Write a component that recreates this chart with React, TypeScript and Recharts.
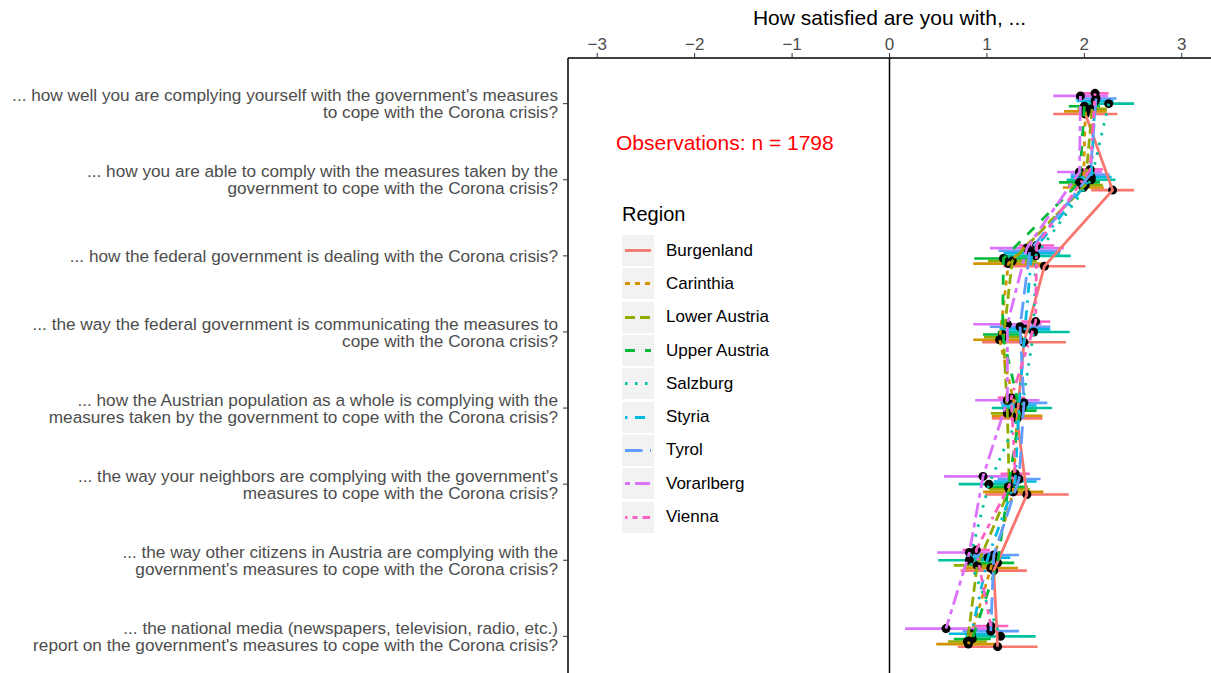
import React from "react";
import {
  ScatterChart,
  Scatter,
  XAxis,
  YAxis,
  ErrorBar,
  ReferenceLine,
  ReferenceDot,
} from "recharts";

// Survey items (top to bottom), pre-broken into lines like the original
const itemLabels: string[][] = [
  ["... how well you are complying yourself with the government's measures", "to cope with the Corona crisis?"],
  ["... how you are able to comply with the measures taken by the", "government to cope with the Corona crisis?"],
  ["... how the federal government is dealing with the Corona crisis?"],
  ["... the way the federal government is communicating the measures to", "cope with the Corona crisis?"],
  ["... how the Austrian population as a whole is complying with the", "measures taken by the government to cope with the Corona crisis?"],
  ["... the way your neighbors are complying with the government's", "measures to cope with the Corona crisis?"],
  ["... the way other citizens in Austria are complying with the", "government's measures to cope with the Corona crisis?"],
  ["... the national media (newspapers, television, radio, etc.)", "report on the government's measures to cope with the Corona crisis?"],
];

const regions = [
  "Burgenland",
  "Carinthia",
  "Lower Austria",
  "Upper Austria",
  "Salzburg",
  "Styria",
  "Tyrol",
  "Vorarlberg",
  "Vienna",
];

const regionColors = ["#F8766D", "#D39200", "#93AA00", "#00BA38", "#00C19F", "#00B9E3", "#619CFF", "#DB72FB", "#FF61C3"];
const regionDashes = ["", "5 5", "10 5", "10 10", "2.5 7.5", "2.5 7.5 10 7.5", "17.5 7.5", "5 5 15 5", "2.5 5 5 5 7.5 5 10 5"];

// mean satisfaction per item, one array per region
const means: number[][] = [
  [2.01, 2.29, 1.59, 1.38, 1.31, 1.41, 1.07, 1.11],
  [2.01, 1.99, 1.22, 1.13, 1.31, 1.27, 1.04, 0.81],
  [2.08, 2.01, 1.26, 1.17, 1.21, 1.23, 0.9, 0.8],
  [2.0, 1.95, 1.17, 1.16, 1.34, 1.22, 1.11, 0.85],
  [2.25, 2.07, 1.5, 1.48, 1.36, 1.02, 0.82, 1.14],
  [2.11, 2.07, 1.46, 1.39, 1.33, 1.29, 1.01, 0.84],
  [2.12, 2.06, 1.44, 1.34, 1.38, 1.33, 1.07, 1.04],
  [1.96, 1.95, 1.41, 1.21, 1.21, 0.96, 0.82, 0.58],
  [2.11, 2.06, 1.51, 1.5, 1.25, 1.29, 0.89, 1.04],
];

// half width of the confidence interval
const halfWidths: number[][] = [
  [0.33, 0.22, 0.42, 0.43, 0.26, 0.43, 0.34, 0.41],
  [0.22, 0.21, 0.36, 0.27, 0.26, 0.31, 0.28, 0.33],
  [0.15, 0.18, 0.25, 0.2, 0.17, 0.21, 0.24, 0.2],
  [0.16, 0.21, 0.3, 0.2, 0.17, 0.2, 0.17, 0.19],
  [0.26, 0.25, 0.36, 0.37, 0.31, 0.31, 0.32, 0.36],
  [0.19, 0.21, 0.29, 0.26, 0.18, 0.22, 0.23, 0.23],
  [0.21, 0.2, 0.32, 0.31, 0.24, 0.22, 0.26, 0.29],
  [0.28, 0.23, 0.38, 0.35, 0.33, 0.4, 0.33, 0.42],
  [0.14, 0.13, 0.18, 0.15, 0.14, 0.15, 0.14, 0.18],
];

const xTicks = [-3, -2, -1, 0, 1, 2, 3];
const yTicks = [1, 2, 3, 4, 5, 6, 7, 8];
const nObs = 1798;

const DODGE = 0.034;

const seriesData = regions.map((r, ri) =>
  means[ri].map((m, i) => ({
    x: m,
    y: i + 1 + (4 - ri) * DODGE,
    hw: halfWidths[ri][i],
  }))
);
const allPoints = seriesData.flat();

const fmtTick = (v: number) => (v < 0 ? `\u2212${-v}` : `${v}`);

const ItemTick = (props: any) => {
  const { x, y, payload } = props;
  const lines = itemLabels[payload.value - 1] || [];
  const n = lines.length;
  return (
    <text x={x} y={y} textAnchor="end" fill="#4D4D4D" fontSize={17.2}>
      {lines.map((l, k) => (
        <tspan key={k} x={x} y={y + (k - (n - 1) / 2) * 17} dy="0.36em">
          {l}
        </tspan>
      ))}
    </text>
  );
};

// legend box drawn over the panel, like the ggplot guide
const RegionLegend = () => (
  <div style={{ position: "absolute", left: 615, top: 195, width: 200 }}>
    <div style={{ fontSize: 20, color: "#000", height: 39, lineHeight: "38px", marginLeft: 7 }}>Region</div>
    {regions.map((r, i) => (
      <div key={r} style={{ display: "flex", alignItems: "center", height: 33.3 }}>
        <svg width={32} height={31} style={{ marginLeft: 7 }}>
          <rect x={0} y={0} width={32} height={31} fill="#F2F2F2" />
          <line x1={3} x2={29} y1={15.5} y2={15.5} stroke={regionColors[i]} strokeWidth={2.8} strokeDasharray={regionDashes[i] || undefined} />
        </svg>
        <span style={{ fontSize: 17, color: "#000", marginLeft: 12 }}>{r}</span>
      </div>
    ))}
  </div>
);

export default function App() {
  return (
    <div
      style={{
        position: "absolute",
        left: 0,
        top: 0,
        width: 1211,
        height: 673,
        overflow: "hidden",
        background: "#fff",
        fontFamily: '"Liberation Sans", Arial, sans-serif',
      }}
    >
      <ScatterChart width={1211} height={690} margin={{ top: 0, right: 0, bottom: 8, left: 0 }}>
        <XAxis
          type="number"
          dataKey="x"
          orientation="top"
          domain={[-3.3, 3.3]}
          ticks={xTicks}
          allowDataOverflow
          height={58}
          tickFormatter={fmtTick}
          tick={{ fontSize: 17, fill: "#4D4D4D" }}
          tickSize={5}
          tickMargin={3}
          tickLine={{ stroke: "#333" }}
          axisLine={{ stroke: "#000", strokeWidth: 1.5 }}
          label={{ value: "How satisfied are you with, ...", position: "insideTop", offset: 10, fontSize: 21, fill: "#000" }}
        />
        <YAxis
          type="number"
          dataKey="y"
          domain={[0.4, 8.6]}
          reversed
          ticks={yTicks}
          interval={0}
          width={568}
          tick={<ItemTick />}
          tickSize={5}
          tickMargin={5}
          tickLine={{ stroke: "#333" }}
          axisLine={{ stroke: "#000", strokeWidth: 1.5 }}
        />
        <ReferenceLine x={0} stroke="#000" strokeWidth={1.5} />
        <ReferenceDot
          x={-1.69}
          y={1.51}
          r={0}
          stroke="none"
          fill="none"
          label={{ value: `Observations: n = ${nObs}`, position: "center", fill: "#FF0000", fontSize: 21 }}
        />
        <Scatter
          data={allPoints}
          isAnimationActive={false}
          legendType="none"
          shape={(p: any) => <circle cx={p.cx} cy={p.cy} r={4.5} fill="#000" />}
        />
        {regions.map((r, ri) => (
          <Scatter
            key={r}
            name={r}
            data={seriesData[ri]}
            isAnimationActive={false}
            fill={regionColors[ri]}
            line={{ stroke: regionColors[ri], strokeWidth: 2.8, strokeDasharray: regionDashes[ri] || undefined }}
            shape={() => <g />}
          >
            <ErrorBar dataKey="hw" direction="x" width={0} stroke={regionColors[ri]} strokeWidth={2.6} />
          </Scatter>
        ))}
      </ScatterChart>
      <RegionLegend />
    </div>
  );
}
